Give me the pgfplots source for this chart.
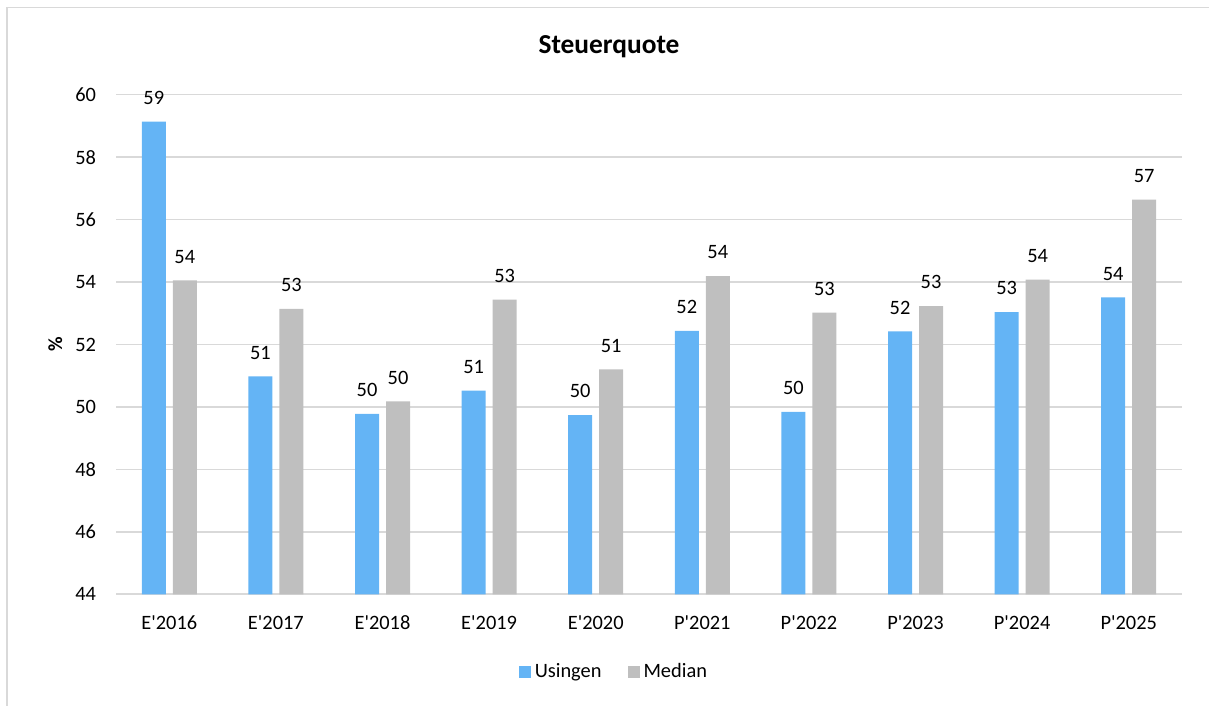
\documentclass[border=0pt]{standalone}
\usepackage{fontspec}
\setmainfont{Carlito}
\usepackage{pgfplots}
\pgfplotsset{compat=1.18}
\definecolor{usblue}{RGB}{100,180,245}
\definecolor{medgray}{RGB}{191,191,191}
\definecolor{gridgray}{RGB}{217,217,217}
\begin{document}
\begin{tikzpicture}[x=1pt,y=1pt]
\path[use as bounding box] (0,0) rectangle (604.5,353);
\draw[gridgray, line width=0.9pt] (3.5,0) -- (3.5,349.25) -- (604.5,349.25);
\node[font=\fontsize{13.7}{16}\selectfont\bfseries] at (304.5,329.5) {Steuerquote};
\begin{axis}[
  at={(58pt,55.85pt)}, anchor=south west,
  scale only axis, width=533pt, height=249.8pt,
  ybar=3.5pt, bar width=12pt,
  ymin=44, ymax=60, ytick={44,46,...,60},
  xmin=-0.5, xmax=9.5, xtick={0,...,9},
  xticklabels={E\textquotesingle 2016,E\textquotesingle 2017,E\textquotesingle 2018,E\textquotesingle 2019,E\textquotesingle 2020,P\textquotesingle 2021,P\textquotesingle 2022,P\textquotesingle 2023,P\textquotesingle 2024,P\textquotesingle 2025},
  axis line style={draw=none},
  major tick length=0pt,
  ymajorgrids, grid style={gridgray, line width=0.8pt},
  /pgf/number format/assume math mode=true,
  tick label style={font=\fontsize{10.2}{12}\selectfont},
  yticklabel style={xshift=-6.5pt},
  xticklabel style={yshift=-7pt},
  ylabel={\%},
  ylabel style={font=\fontsize{10}{12}\selectfont\bfseries, at={(axis description cs:-0.057,0.5)}, anchor=center},
  point meta=y,
  nodes near coords={\pgfmathprintnumber[fixed,precision=0]{\pgfplotspointmeta}},
  nodes near coords style={font=\fontsize{10.2}{12}\selectfont, anchor=south, yshift=5pt, text=black},
  legend style={at={(0.468,-0.1555)}, anchor=center, draw=none, legend columns=2,
    font=\fontsize{10.2}{12}\selectfont,
    /tikz/every even column/.append style={column sep=11pt}},
]
\addplot[fill=usblue, draw=none, legend image code/.code={\fill[usblue] (0pt,-3pt) rectangle (6pt,3pt);}] coordinates {
(0,59.14) (1,50.98) (2,49.78) (3,50.52) (4,49.74) (5,52.44) (6,49.84) (7,52.42) (8,53.04) (9,53.51)};
\addplot[fill=medgray, draw=none, legend image code/.code={\fill[medgray] (0pt,-3pt) rectangle (6pt,3pt);}] coordinates {
(0,54.05) (1,53.14) (2,50.18) (3,53.44) (4,51.20) (5,54.19) (6,53.02) (7,53.23) (8,54.08) (9,56.64)};
\legend{Usingen,Median}
\end{axis}
\end{tikzpicture}
\end{document}
